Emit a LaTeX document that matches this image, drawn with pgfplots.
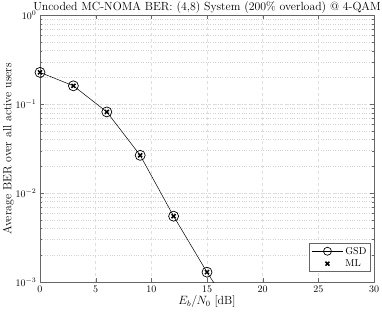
\documentclass[border=0pt]{standalone}
\usepackage{pgfplots}
\pgfplotsset{compat=1.18}
\pgfplotsset{mlimg/.style={legend image code/.code={\draw[##1] plot coordinates {(0.55cm,0cm)};}}}
\begin{document}
\begin{tikzpicture}
\begin{axis}[
  scale only axis,
  width=334pt, height=266.7pt,
  xmin=0, xmax=30, ymin=1e-3, ymax=1,
  ymode=log,
  xtick={0,5,10,15,20,25,30},
  ytick={1e-3,1e-2,1e-1,1},
  grid=both,
  major grid style={gray!25, dashed, line width=0.5pt},
  minor grid style={gray!35, dotted, line width=0.5pt},
  axis line style={black!60, line width=0.6pt},
  tick style={black!60},
  major tick length=4pt, minor tick length=2pt,
  tick align=inside,
  xtick pos=both, ytick pos=both,
  tick label style={font=\fontsize{10.3}{12}\selectfont},
  xticklabel style={yshift=-1pt},
  title={Uncoded MC-NOMA BER: (4,8) System (200\% overload) @ 4-QAM},
  title style={font=\fontsize{11.8}{13}\selectfont, yshift=-8pt},
  xlabel={$E_b/N_0$ [dB]},
  ylabel={Average BER over all active users},
  label style={font=\fontsize{11.8}{13}\selectfont},
  xlabel style={yshift=4pt},
  ylabel style={yshift=-5pt},
  legend style={font=\fontsize{10}{11}\selectfont, draw=black!60, line width=0.5pt, at={(0.99,0.039)}, anchor=south east, inner xsep=2pt, inner ysep=1.5pt, row sep=0pt},
  legend cell align=left,
  legend image code/.code={
    \draw[#1] (0cm,0cm) -- (1.1cm,0cm);
    \draw[#1, mark repeat=2, mark phase=2, mark size=4pt] plot coordinates {(0cm,0cm) (0.55cm,0cm) (1.1cm,0cm)};
  },
]
\addplot[black, line width=0.5pt, mark=o, mark size=5pt, mark options={solid, line width=0.7pt}]
  coordinates {(0,0.228) (3,0.161) (6,0.0819) (9,0.0266) (12,0.0055) (15,0.00129) (18,0.00034) (21,0.00008)};
\addlegendentry{GSD}
\addplot[only marks, black, mark=x, mark size=2.8pt, mark options={line width=1.5pt}, mlimg]
  coordinates {(0,0.228) (3,0.161) (6,0.0819) (9,0.0266) (12,0.0055) (15,0.00129)};
\addlegendentry{ML}
\end{axis}
\pgfresetboundingbox
\path (current axis.south west) ++(-40pt,-31pt) coordinate (bl);
\path (current axis.north east) ++(8pt,15.3pt) coordinate (tr);
\useasboundingbox (bl) rectangle (tr);
\end{tikzpicture}
\end{document}
